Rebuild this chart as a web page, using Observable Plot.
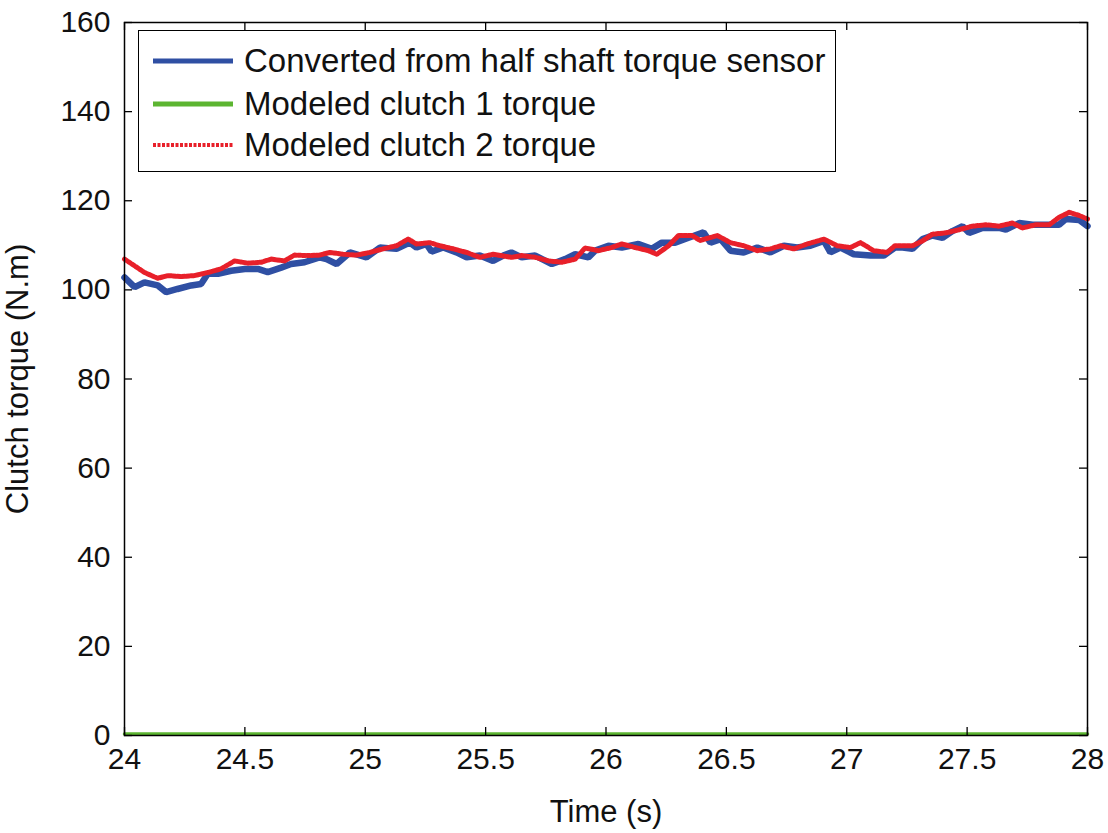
<!DOCTYPE html>
<html>
<head>
<meta charset="utf-8">
<script src="https://cdn.jsdelivr.net/npm/d3@7"></script>
<script src="https://cdn.jsdelivr.net/npm/@observablehq/plot@0.6"></script>
<style>
  html, body { margin: 0; padding: 0; background: #fff; }
  #wrap { position: relative; width: 1108px; height: 833px; font-family: "Liberation Sans", Arial, sans-serif; }
  #legend { position: absolute; left: 138px; top: 30px; width: 696px; height: 140px; border: 1.5px solid #000; background: #fff; box-sizing: content-box; }
  .row { position: absolute; left: 0; height: 40px; display: flex; align-items: center; }
  .row svg { margin-left: 14px; }
  .row span { margin-left: 11px; font-size: 33px; color: #111; white-space: nowrap; }
</style>
</head>
<body>
<div id="wrap"><div id="chart"></div><div id="legend"></div></div>
<script>
const xTicks = [24, 24.5, 25, 25.5, 26, 26.5, 27, 27.5, 28];
const yTicks = [0, 20, 40, 60, 80, 100, 120, 140, 160];

const seriesNames = ["Converted from half shaft torque sensor", "Modeled clutch 1 torque", "Modeled clutch 2 torque"];
const seriesColors = ["#2f4fa3", "#5cb531", "#e8202a"];

const sensorTime = [24.0,24.042,24.083,24.138,24.173,24.22,24.277,24.318,24.346,24.388,24.443,24.5,24.554,24.595,24.651,24.692,24.748,24.81,
  24.839,24.881,24.936,25.005,25.061,25.13,25.185,25.213,25.254,25.275,25.324,25.379,25.421,25.476,25.531,25.573,25.607,
  25.65,25.706,25.775,25.83,25.872,25.927,25.955,26.01,26.066,26.135,26.19,26.232,26.287,26.343,26.405,
  26.434,26.476,26.517,26.572,26.628,26.683,26.739,26.794,26.849,26.905,26.932,26.974,27.029,27.099,27.154,27.2,
  27.232,27.273,27.315,27.356,27.398,27.439,27.481,27.508,27.564,27.633,27.661,27.716,27.772,27.827,27.882,27.91,27.965,28.0];
const sensorTorque = [102.8,100.6,101.7,101.0,99.5,100.2,101.0,101.3,103.6,103.6,104.3,104.7,104.7,104.0,105.0,105.8,106.2,107.3,
  106.9,105.8,108.4,107.3,109.5,109.2,110.6,109.5,110.3,108.6,109.5,108.4,107.3,107.7,106.5,107.7,108.4,
  107.3,107.7,105.8,106.9,108.0,107.3,108.8,109.9,109.5,110.3,109.2,110.6,110.6,111.7,112.9,
  110.6,111.4,108.8,108.4,109.5,108.4,109.9,109.5,109.9,111.0,108.4,109.5,108.0,107.7,107.7,109.5,
  109.5,109.2,111.4,112.2,111.7,113.2,114.3,112.8,113.9,113.9,113.5,115.0,114.6,114.6,114.6,115.9,115.7,114.3];

const clutch1Time = [24, 28];
const clutch1Torque = [0, 0];

const clutch2Time = [24.0,24.042,24.083,24.138,24.18,24.235,24.29,24.346,24.401,24.457,24.512,24.568,24.609,24.665,24.706,24.762,24.81,
  24.853,24.908,24.964,25.019,25.074,25.13,25.178,25.213,25.268,25.31,25.365,25.421,25.476,25.531,25.607,
  25.65,25.706,25.761,25.817,25.872,25.913,25.969,26.024,26.066,26.121,26.176,26.211,26.26,26.301,26.357,26.391,
  26.462,26.517,26.572,26.628,26.683,26.725,26.78,26.836,26.905,26.96,27.015,27.057,27.112,27.168,27.2,
  27.232,27.273,27.315,27.356,27.412,27.467,27.522,27.578,27.633,27.688,27.73,27.785,27.841,27.882,27.924,27.965,28.0];
const clutch2Torque = [106.9,105.4,103.9,102.6,103.2,103.0,103.2,103.9,104.7,106.5,106.0,106.2,106.9,106.5,107.8,107.7,107.8,
  108.4,108.0,107.8,108.4,109.2,109.9,111.4,110.3,110.6,109.9,109.2,108.4,107.3,108.0,107.3,
  107.7,107.3,106.5,106.2,106.9,109.4,108.8,109.5,110.3,109.5,108.8,108.0,109.9,112.2,112.2,111.1,
  112.2,110.6,109.9,108.8,109.2,109.9,109.2,110.3,111.4,109.9,109.5,110.6,108.8,108.4,109.9,
  109.9,109.9,111.0,112.5,112.8,113.5,114.3,114.6,114.3,115.0,113.9,114.6,114.6,116.3,117.4,116.7,115.9];

const sensor = sensorTime.map((t, i) => ({t, v: sensorTorque[i]}));
const clutch1 = clutch1Time.map((t, i) => ({t, v: clutch1Torque[i]}));
const clutch2 = clutch2Time.map((t, i) => ({t, v: clutch2Torque[i]}));

const W = 1108, H = 833;
const mL = 124, mR = 21, mT = 22, mB = 98;
const plotW = W - mL - mR, plotH = H - mT - mB;
const tickLen = 8;

const chart = Plot.plot({
  width: W, height: H,
  marginLeft: mL, marginRight: mR, marginTop: mT, marginBottom: mB,
  style: {fontFamily: "'Liberation Sans', Arial, sans-serif", fontSize: "30px", color: "#111", background: "#fff"},
  x: {domain: [24, 28]},
  y: {domain: [0, 160]},
  marks: [
    Plot.line(clutch1, {x: "t", y: "v", stroke: seriesColors[1], strokeWidth: 3.5, dy: -1.5}),
    Plot.line(sensor, {x: "t", y: "v", stroke: seriesColors[0], strokeWidth: 6.5, strokeLinejoin: "miter"}),
    Plot.line(clutch2, {x: "t", y: "v", stroke: seriesColors[2], strokeWidth: 5, strokeDasharray: "3,1.5"}),
    Plot.frame({stroke: "#000", strokeWidth: 1.5}),
    Plot.tickX(xTicks, {x: d => d, insetTop: plotH - tickLen, stroke: "#000", strokeWidth: 1.3}),
    Plot.tickX(xTicks, {x: d => d, insetBottom: plotH - tickLen, stroke: "#000", strokeWidth: 1.3}),
    Plot.tickY(yTicks, {y: d => d, insetRight: plotW - tickLen, stroke: "#000", strokeWidth: 1.3}),
    Plot.tickY(yTicks, {y: d => d, insetLeft: plotW - tickLen, stroke: "#000", strokeWidth: 1.3}),
    Plot.axisX({ticks: xTicks, tickSize: 0, tickPadding: 12, label: null, tickFormat: d => String(d), fontSize: 30}),
    Plot.axisY({ticks: yTicks, tickSize: 0, tickPadding: 14, label: null, tickFormat: d => String(d), fontSize: 30}),
    Plot.text(["Time (s)"], {frameAnchor: "bottom", dy: 86, fontSize: 31, fill: "#111", textAnchor: "middle"}),
    Plot.text(["Clutch torque (N.m)"], {frameAnchor: "left", dx: -106, rotate: -90, fontSize: 31, fill: "#111", textAnchor: "middle"})
  ]
});
document.getElementById("chart").appendChild(chart);

// legend
const legend = document.getElementById("legend");
const rowTops = [10, 53, 94];
const dashes = [null, null, "3,1.5"];
seriesNames.forEach((name, i) => {
  const row = document.createElement("div");
  row.className = "row";
  row.style.top = rowTops[i] + "px";
  const svg = d3.create("svg").attr("width", 80).attr("height", 10);
  svg.append("line").attr("x1", 0).attr("x2", 80).attr("y1", 5).attr("y2", 5)
    .attr("stroke", seriesColors[i]).attr("stroke-width", i === 2 ? 4 : 5)
    .attr("stroke-dasharray", dashes[i]);
  row.appendChild(svg.node());
  const span = document.createElement("span");
  span.textContent = name;
  row.appendChild(span);
  legend.appendChild(row);
});
</script>
</body>
</html>
